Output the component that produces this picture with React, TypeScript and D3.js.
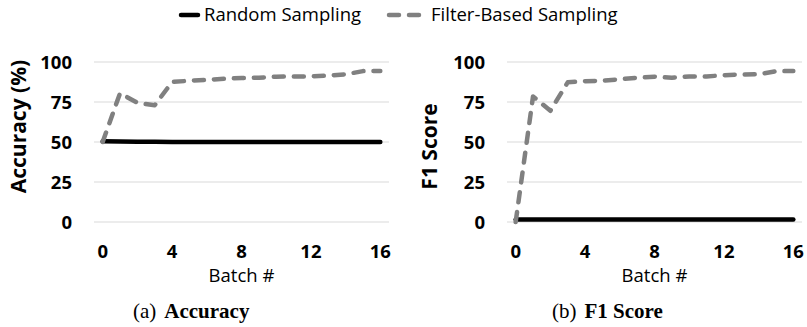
import React from "react";
import * as d3 from "d3";

const batches = d3.range(0, 17);
const xTicks = [0, 4, 8, 12, 16];
const yTicks = [0, 25, 50, 75, 100];
const seriesNames = ["Random Sampling", "Filter-Based Sampling"];

const accRandom = [50.4, 50.3, 50.2, 50.1, 50, 50, 50, 50, 50, 50, 50, 50, 50, 50, 50, 50, 50];
const accFilter = [50, 80.5, 74.5, 73, 87.5, 88.3, 88.8, 89.5, 90, 90.2, 90.8, 91, 91, 91.5, 92.3, 94.3, 94.4];
const f1Random = [1.5, 1.5, 1.5, 1.5, 1.5, 1.5, 1.5, 1.5, 1.5, 1.5, 1.5, 1.5, 1.5, 1.5, 1.5, 1.5, 1.5];
const f1Filter = [0, 78.5, 69.5, 87.3, 88, 88.3, 89.2, 90.2, 90.8, 90.2, 91, 91, 91.7, 92.2, 92.4, 94.2, 94.4];

const SANS = "'Open Sans', sans-serif";
const SERIF = "'Liberation Serif', 'Times New Roman', serif";
const GRAY = "#808080";
const DASH = "10 10";

type PanelProps = {
  x0: number;
  x1: number;
  tickRight: number;
  title: string;
  titleX: number;
  titleY: number;
  random: number[];
  filter: number[];
  capLabel: string;
  capBold: string;
  capX: number;
};

function Panel(p: PanelProps) {
  const x = d3.scalePoint<number>().domain(batches).range([p.x0, p.x1]).padding(0.5);
  const y = d3.scaleLinear().domain([0, 100]).range([222, 62]);
  const line = d3
    .line<number>()
    .x((_, i) => x(batches[i]) as number)
    .y((d) => y(d));
  const xc = (p.x0 + p.x1) / 2;
  return (
    <g>
      {yTicks.map((t) => (
        <g key={t}>
          <line x1={p.x0} x2={p.x1} y1={y(t)} y2={y(t)} stroke="#d9d9d9" strokeWidth={1} />
          <text x={p.tickRight} y={y(t) + 6.5} textAnchor="end" fontFamily={SANS} fontWeight="bold" fontSize={18.5} fill="#000">
            {t}
          </text>
        </g>
      ))}
      {xTicks.map((t) => (
        <text key={t} x={x(t) as number} y={258} textAnchor="middle" fontFamily={SANS} fontWeight="bold" fontSize={18.5} fill="#000">
          {t}
        </text>
      ))}
      <text x={xc} y={282} textAnchor="middle" fontFamily={SANS} fontSize={18.5} fill="#000">
        Batch #
      </text>
      <text
        transform={`translate(${p.titleX},${p.titleY}) rotate(-90)`}
        textAnchor="middle"
        fontFamily={SANS}
        fontWeight="bold"
        fontSize={21}
        fill="#000"
      >
        {p.title}
      </text>
      <path d={line(p.random) || ""} fill="none" stroke="#000" strokeWidth={4.5} strokeLinecap="round" strokeLinejoin="round" />
      <path
        d={line(p.filter) || ""}
        fill="none"
        stroke={GRAY}
        strokeWidth={4.5}
        strokeDasharray={DASH}
        strokeLinecap="round"
        strokeLinejoin="round"
      />
      <text x={p.capX} y={318} fontFamily={SERIF} fontSize={21} fill="#000">
        {p.capLabel}
        <tspan dx={8} fontWeight="bold">{p.capBold}</tspan>
      </text>
    </g>
  );
}

export default function App() {
  return (
    <svg
      width={807}
      height={327}
      viewBox="0 0 807 327"
      style={{ position: "absolute", left: 0, top: 0, background: "#fff" }}
    >
      <rect width={807} height={327} fill="#fff" />
      <g>
        <line x1={181} x2={198} y1={15} y2={15} stroke="#000" strokeWidth={4.5} strokeLinecap="round" />
        <text x={204} y={21} fontFamily={SANS} fontSize={18.5} fill="#000">
          {seriesNames[0]}
        </text>
        <line x1={389} x2={421} y1={15} y2={15} stroke={GRAY} strokeWidth={4.5} strokeDasharray={DASH} strokeLinecap="round" />
        <text x={431} y={21} fontFamily={SANS} fontSize={18.5} fill="#000">
          {seriesNames[1]}
        </text>
      </g>
      <Panel
        x0={94}
        x1={389}
        tickRight={72}
        title="Accuracy (%)"
        titleX={26}
        titleY={126.5}
        random={accRandom}
        filter={accFilter}
        capLabel="(a)"
        capBold="Accuracy"
        capX={133}
      />
      <Panel
        x0={507}
        x1={802}
        tickRight={485}
        title="F1 Score"
        titleX={437}
        titleY={146.5}
        random={f1Random}
        filter={f1Filter}
        capLabel="(b)"
        capBold="F1 Score"
        capX={552}
      />
    </svg>
  );
}
